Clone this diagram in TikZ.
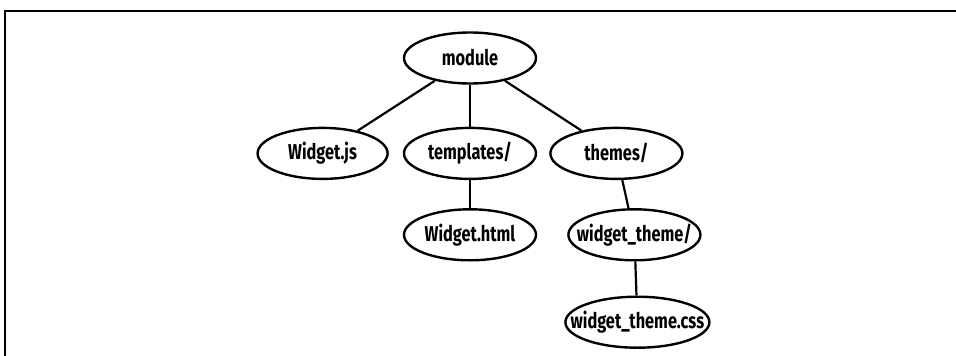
\documentclass[tikz,border=0pt]{standalone}
\usepackage{fontspec}
\newfontfamily\treefont[FakeStretch=0.76]{Fira Sans}
\usetikzlibrary{shapes.geometric,positioning}
% keep the label from widening the ellipse
\newcommand{\fname}[1]{\makebox[0pt][c]{#1}}

\begin{document}
\begin{tikzpicture}[x=1pt,y=1pt,
    entry/.style={ellipse, draw, line width=2.4pt, minimum width=132pt,
      minimum height=51pt, inner sep=0pt,
      font=\treefont\bfseries\fontsize{21.5}{21.5}\selectfont},
    link/.style={line width=2.2pt}]

  \useasboundingbox (0,0) rectangle (956,-356);
  \draw[line width=1.1pt] (5,-356) -- (5,-11) -- (956,-11);

  % Nodes
  \node[entry] (module) at (470,-58) {\fname{module}};
  \node[entry, below=42pt of module]                       (templates)  {\fname{templates/}};
  \node[entry, left=14pt of templates, minimum width=130pt] (widgetjs)   {\fname{Widget.js}};
  \node[entry, right=12pt of templates]                     (themes)     {\fname{themes/}};
  \node[entry, below=28pt of templates]                     (widgethtml) {\fname{Widget.html}};
  \node[entry, below=28pt of themes, xshift=18pt]           (theme)      {\fname{widget\_theme/}};
  \node[entry, below=34pt of theme, xshift=3pt, minimum width=144pt] (themecss) {\fname{widget\_theme.css}};

  % Edges
  \draw[link] (module) -- (widgetjs);
  \draw[link] (module) -- (templates);
  \draw[link] (module) -- (themes);
  \draw[link] (templates) -- (widgethtml);
  \draw[link] (themes) -- (theme);
  \draw[link] (theme) -- (themecss);
\end{tikzpicture}
\end{document}
